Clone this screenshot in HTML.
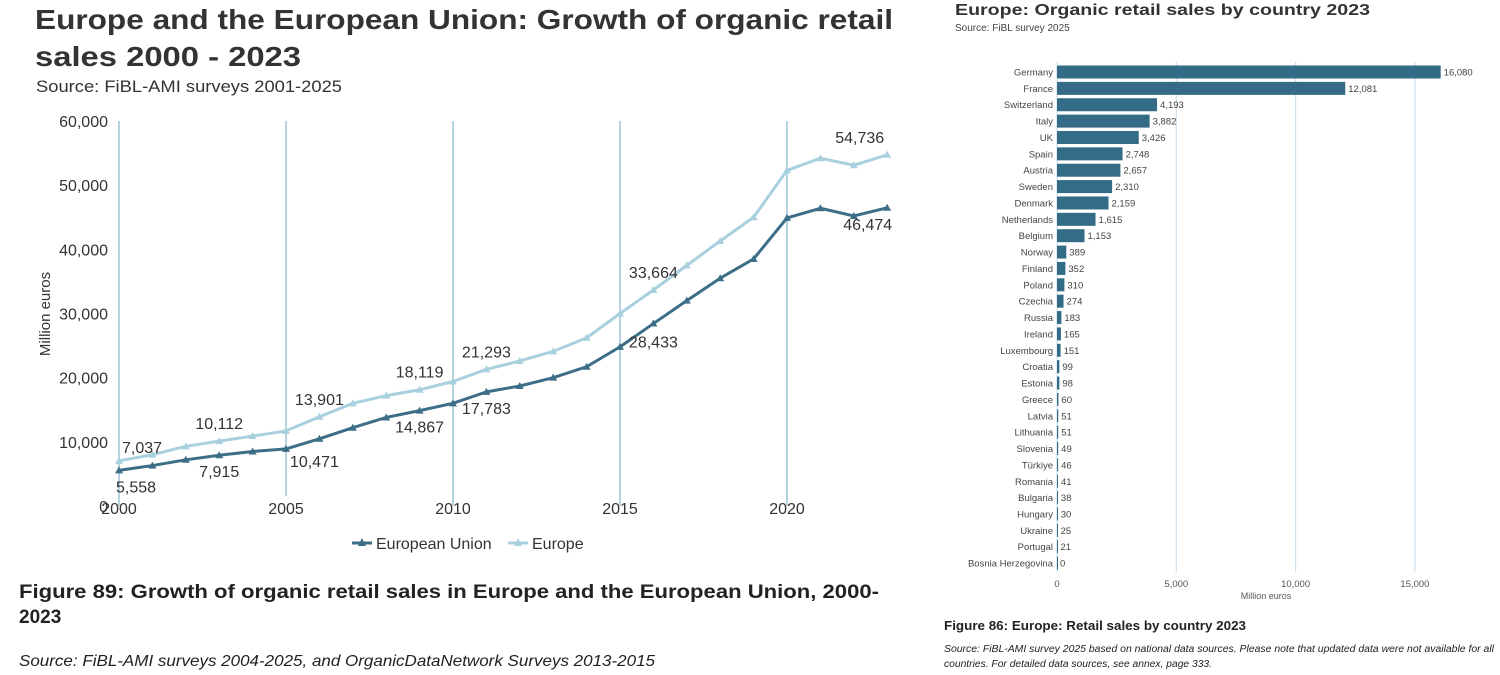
<!DOCTYPE html>
<html><head><meta charset="utf-8"><style>
html,body{margin:0;padding:0;background:#fff;width:1500px;height:675px;overflow:hidden}
svg text{font-family:"Liberation Sans",Arial,sans-serif}
</style></head><body>
<svg id="s" width="1500" height="675" viewBox="0 0 1500 675">
<g id="left">
<text x="35" y="29" font-size="28" font-weight="bold" fill="#333" textLength="858" lengthAdjust="spacingAndGlyphs">Europe and the European Union: Growth of organic retail</text>
<text x="35" y="66" font-size="28" font-weight="bold" fill="#333" textLength="266" lengthAdjust="spacingAndGlyphs">sales 2000 ‐  2023</text>
<text x="36" y="92" font-size="17" fill="#333" textLength="306" lengthAdjust="spacingAndGlyphs">Source: FiBL-AMI surveys 2001-2025</text>
<text transform="translate(50,314) rotate(-90)" text-anchor="middle" font-size="15" fill="#333">Million euros</text>
<g id="lgrid"></g><g id="lax"></g><g id="llines"></g>
<g>
<line x1="352" y1="543" x2="372" y2="543" stroke="#3d6e88" stroke-width="3"/><path d="M362,538 L366,546 L358,546Z" fill="#3d6e88"/>
<text x="376" y="549" font-size="16" fill="#333">European Union</text>
<line x1="508" y1="543" x2="528" y2="543" stroke="#a9d0df" stroke-width="3"/><path d="M518,538 L522,546 L514,546Z" fill="#a9d0df"/>
<text x="532" y="549" font-size="16" fill="#333">Europe</text>
</g>
<text x="19" y="598" font-size="19" font-weight="bold" fill="#222" textLength="860" lengthAdjust="spacingAndGlyphs">Figure 89: Growth of organic retail sales in Europe and the European Union, 2000-</text>
<text x="19" y="623" font-size="19" font-weight="bold" fill="#222">2023</text>
<text x="19" y="666" font-size="16" font-style="italic" fill="#222" textLength="636" lengthAdjust="spacingAndGlyphs">Source: FiBL-AMI surveys 2004-2025, and OrganicDataNetwork Surveys 2013-2015</text>
</g>
<g id="right">
<text x="955" y="15" font-size="16" font-weight="bold" fill="#333" textLength="415" lengthAdjust="spacingAndGlyphs">Europe: Organic retail sales by country 2023</text>
<text x="955" y="31" font-size="10" fill="#444">Source: FiBL survey 2025</text>
<g id="rgrid"></g><g id="rbars"></g>
<text x="1266" y="599" font-size="9" fill="#555" text-anchor="middle">Million euros</text>
<text x="944" y="630" font-size="12.5" font-weight="bold" fill="#222" textLength="302" lengthAdjust="spacingAndGlyphs">Figure 86: Europe: Retail sales by country 2023</text>
<text x="944" y="652" font-size="10" font-style="italic" fill="#222" textLength="550" lengthAdjust="spacingAndGlyphs">Source: FiBL-AMI survey 2025 based on national data sources. Please note that updated data were not available for all</text>
<text x="944" y="667" font-size="10" font-style="italic" fill="#222" textLength="268" lengthAdjust="spacingAndGlyphs">countries. For detailed data sources, see annex, page 333.</text>
</g>
</svg>
<script>
const years=[2000,2001,2002,2003,2004,2005,2006,2007,2008,2009,2010,2011,2012,2013,2014,2015,2016,2017,2018,2019,2020,2021,2022,2023];
const euValues=[5558,6300,7200,7915,8500,8900,10471,12200,13800,14867,16000,17783,18700,20000,21700,24800,28433,32000,35500,38500,44900,46400,45200,46474];
const europeValues=[7037,8000,9300,10112,10900,11700,13901,16000,17200,18119,19400,21293,22600,24100,26200,30000,33664,37500,41300,45000,52300,54200,53100,54736];
const yTicks=[0,10000,20000,30000,40000,50000,60000];
const xTicks=[2000,2005,2010,2015,2020];
const europeLabelYears=[2000,2003,2006,2009,2011,2016,2023];
const euLabelYears=[2000,2003,2006,2009,2011,2016,2023];
const countries=["Germany","France","Switzerland","Italy","UK","Spain","Austria","Sweden","Denmark","Netherlands","Belgium","Norway","Finland","Poland","Czechia","Russia","Ireland","Luxembourg","Croatia","Estonia","Greece","Latvia","Lithuania","Slovenia","Türkiye","Romania","Bulgaria","Hungary","Ukraine","Portugal","Bosnia Herzegovina"];
const sales=[16080,12081,4193,3882,3426,2748,2657,2310,2159,1615,1153,389,352,310,274,183,165,151,99,98,60,51,51,49,46,41,38,30,25,21,0];
const rTicks=[0,5000,10000,15000];

const NS="http://www.w3.org/2000/svg";
function el(tag,attrs,parent,txt){const e=document.createElementNS(NS,tag);for(const k in attrs)e.setAttribute(k,attrs[k]);if(txt!==undefined)e.textContent=txt;parent.appendChild(e);return e;}
const fmt=v=>v.toLocaleString('en-US');
const X=y=>119+(y-2000)*33.4;
const Y=v=>506-v*385/60000;
const lg=document.getElementById('lgrid'),la=document.getElementById('lax'),ll=document.getElementById('llines');
xTicks.forEach(t=>{
 const l=el('line',{x1:X(t),x2:X(t),y1:Y(60000),y2:t===2005?496:506,stroke:'#9fc3d6','stroke-width':1.5},lg);
 
 
 const tx=el('text',{x:X(t),y:514,'font-size':16,fill:'#333','text-anchor':'middle'},la,String(t));
 
 
});
yTicks.forEach(t=>{
 const tx=el('text',{x:108,y:Y(t)+6,'font-size':16,fill:'#333','text-anchor':'end'},la,fmt(t));
 
 
});
function series(vals,color,name){
 const p=el('polyline',{points:vals.map((v,i)=>X(years[i])+','+Y(v)).join(' '),fill:'none',stroke:color,'stroke-width':3,'stroke-linejoin':'round'},ll);
 
 
 vals.forEach((v,i)=>{const x=X(years[i]),y=Y(v);
  const m=el('path',{d:`M${x},${y-4} L${x+4},${y+3} L${x-4},${y+3}Z`,fill:color},ll);
  
  
 });
}
series(europeValues,'#a9d0df','europe');
series(euValues,'#3d6e88','eu');
europeLabelYears.forEach(yr=>{const i=years.indexOf(yr);const v=europeValues[i];
 let x=X(yr)+(yr===2000?3:0),anchor=yr===2000?'start':'middle';
 if(yr===2023){x=X(yr)-3;anchor='end';}
 const t=el('text',{x:x,y:Y(v)-(yr===2000?8:12),'font-size':16,fill:'#333','text-anchor':anchor},ll,fmt(v));
 
 
});
euLabelYears.forEach(yr=>{const i=years.indexOf(yr);const v=euValues[i];
 let x=X(yr),anchor='middle',dy=22;
 if(yr===2000){x=X(yr)-3;anchor='start';}
 if(yr===2006){x=X(yr)-5;anchor='middle';dy=28;}
 if(yr===2016){x=X(yr);dy=24;}
 if(yr===2023){x=X(yr)+5;anchor='end';}
 const t=el('text',{x:x,y:Y(v)+dy,'font-size':16,fill:'#333','text-anchor':anchor},ll,fmt(v));
 
 
});
// right chart
const RX=v=>1057+v*119.3/5000;
const RY=i=>72+i*16.37;
const rg=document.getElementById('rgrid'),rb=document.getElementById('rbars');
rTicks.forEach(t=>{
 const l=el('line',{x1:RX(t),x2:RX(t),y1:62,y2:572,stroke:'#cfe2ee','stroke-width':1.2},rg);
 
 
 const tx=el('text',{x:RX(t),y:587,'font-size':9.5,fill:'#555','text-anchor':'middle'},rg,fmt(t));
 
 
});
countries.forEach((c,i)=>{const y=RY(i);
 const n=el('text',{x:1053,y:y+3.5,'font-size':9.5,fill:'#444','text-anchor':'end'},rb,c);
 
 
 const w=Math.max(1,RX(sales[i])-RX(0));
 const r=el('rect',{x:RX(0),y:y-6.5,width:w,height:13,fill:'#346b86'},rb);
 
 
 const v=el('text',{x:RX(sales[i])+3,y:y+3.5,'font-size':9.5,fill:'#444'},rb,fmt(sales[i]));
 
 
});
</script>
</body></html>
